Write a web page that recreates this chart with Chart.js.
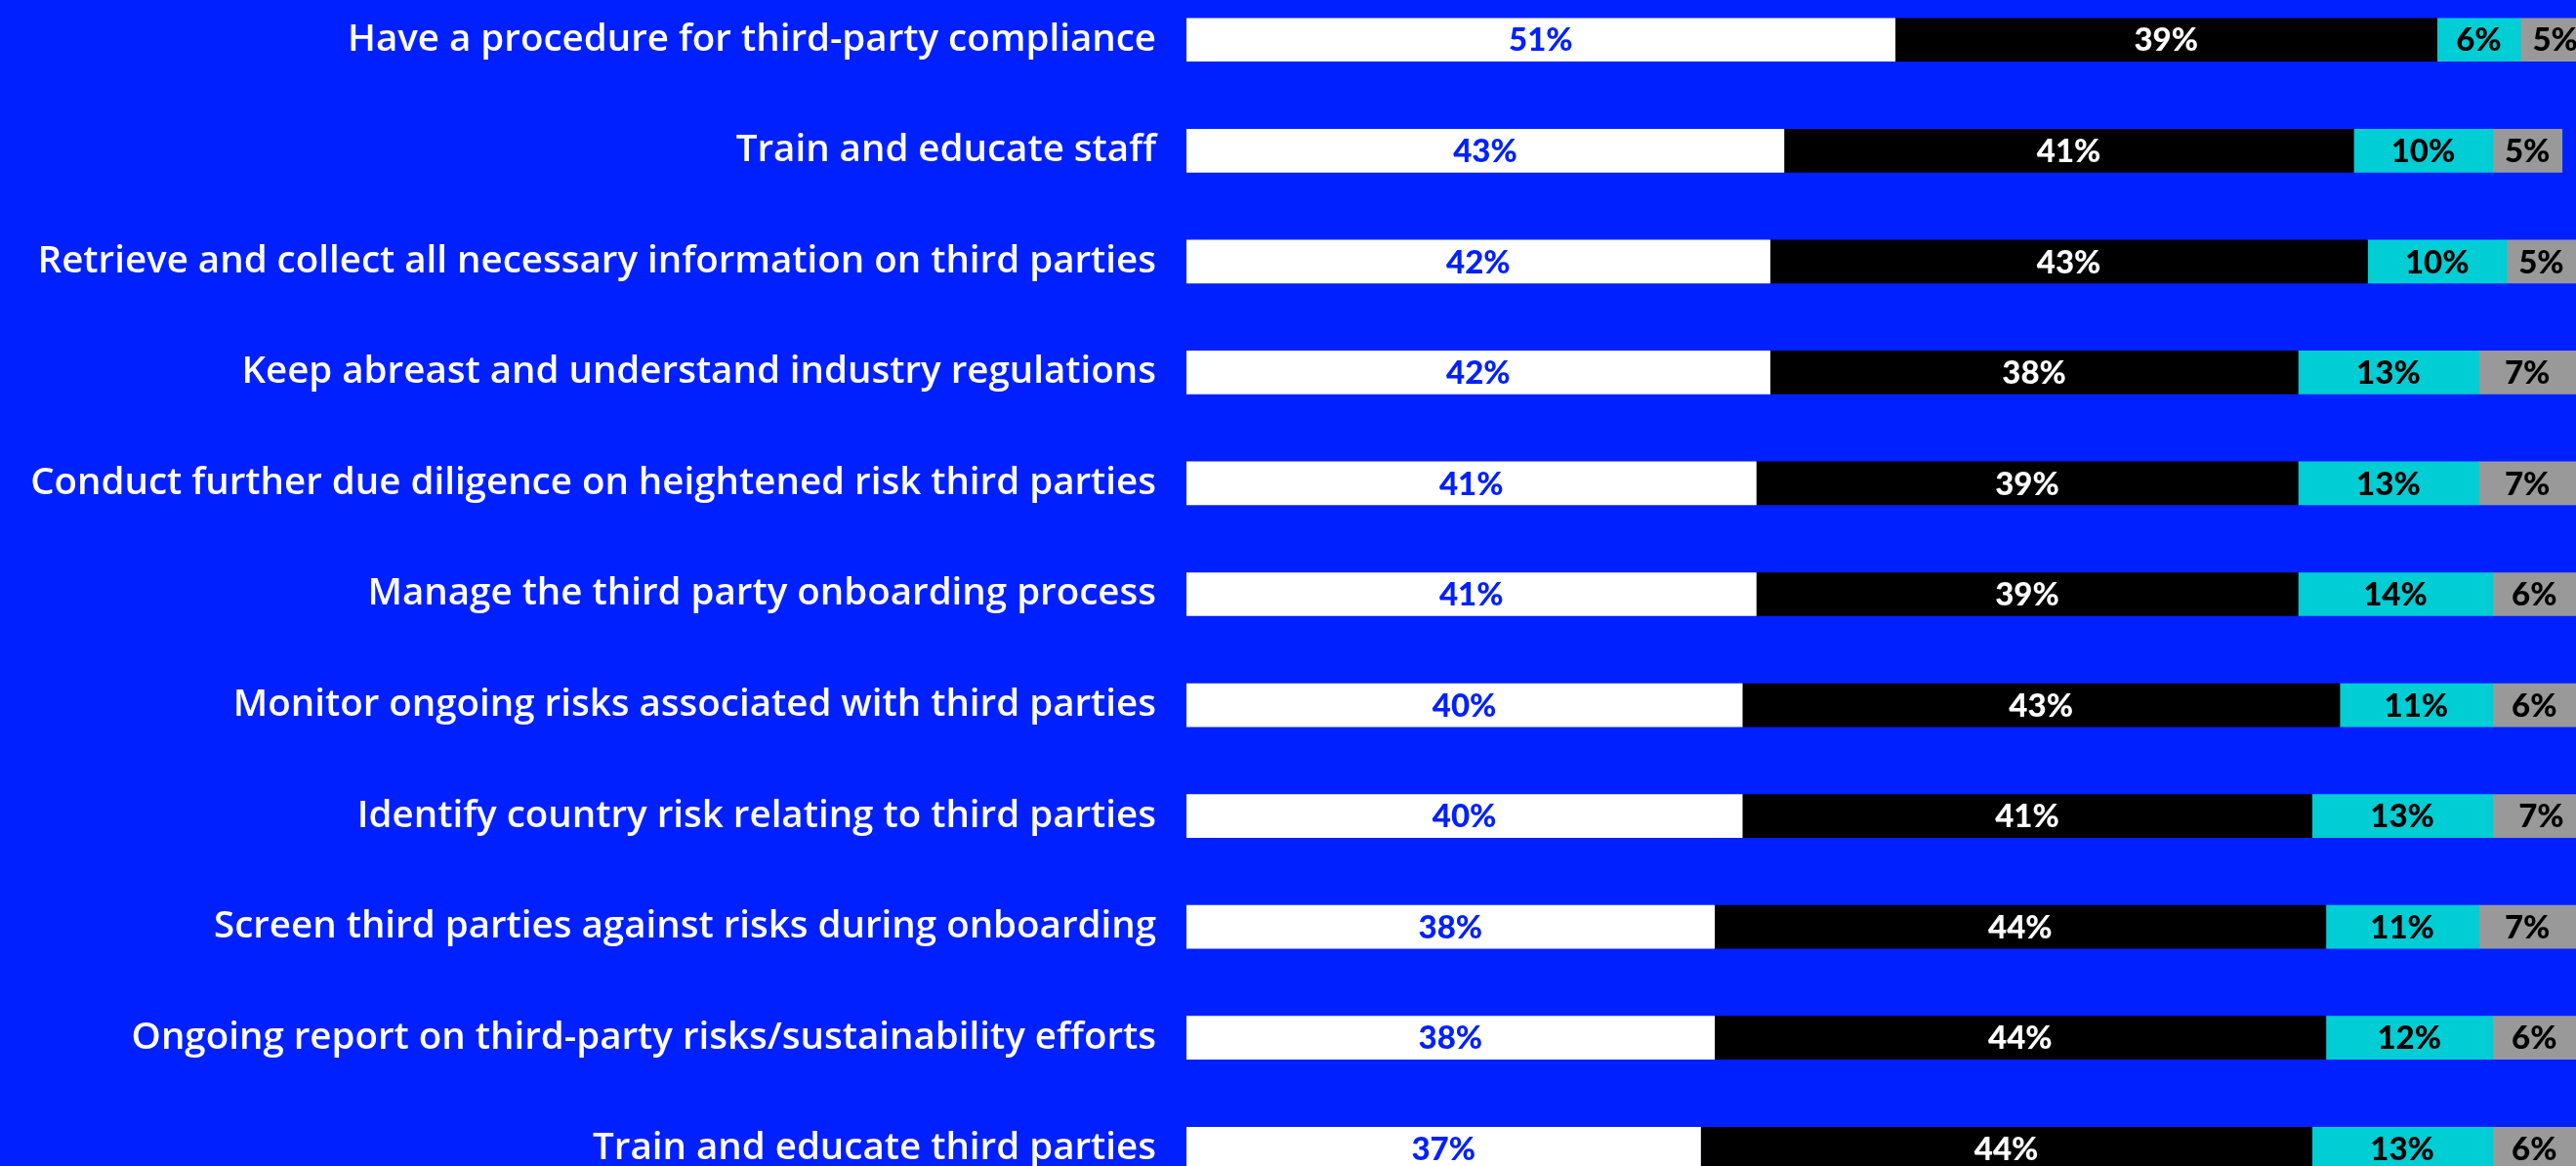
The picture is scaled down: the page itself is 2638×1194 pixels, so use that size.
<!DOCTYPE html>
<html>
<head>
<meta charset="utf-8">
<script src="https://cdn.jsdelivr.net/npm/chart.js@4"></script>
<style>
  html, body { margin: 0; padding: 0; background: #0020ff; overflow: hidden; }
  #wrap { position: absolute; left: 0; top: -16px; width: 2638px; height: 1249px; }
</style>
</head>
<body>
<div id="wrap"><canvas id="chart"></canvas></div>
<script>
const categories = [
  "Have a procedure for third-party compliance",
  "Train and educate staff",
  "Retrieve and collect all necessary information on third parties",
  "Keep abreast and understand industry regulations",
  "Conduct further due diligence on heightened risk third parties",
  "Manage the third party onboarding process",
  "Monitor ongoing risks associated with third parties",
  "Identify country risk relating to third parties",
  "Screen third parties against risks during onboarding",
  "Ongoing report on third-party risks/sustainability efforts",
  "Train and educate third parties"
];
const seriesWhite = [51, 43, 42, 42, 41, 41, 40, 40, 38, 38, 37];
const seriesBlack = [39, 41, 43, 38, 39, 39, 43, 41, 44, 44, 44];
const seriesCyan  = [6, 10, 10, 13, 13, 14, 11, 13, 11, 12, 13];
const seriesGray  = [5, 5, 5, 7, 7, 6, 6, 7, 7, 6, 6];

const fills = ["#ffffff", "#000000", "#00cdd4", "#999999"];
const labelColors = ["#0020ff", "#ffffff", "#000000", "#000000"];

// draws the "NN%" text in the middle of each segment
const segmentLabels = {
  id: "segmentLabels",
  afterDatasetsDraw(chart) {
    const ctx = chart.ctx;
    ctx.save();
    ctx.font = "900 33px Lato";
    ctx.textAlign = "center";
    ctx.textBaseline = "middle";
    chart.data.datasets.forEach((ds, di) => {
      const meta = chart.getDatasetMeta(di);
      ctx.fillStyle = labelColors[di];
      meta.data.forEach((bar, i) => {
        const cx = (bar.x + bar.base) / 2;
        ctx.fillText(ds.data[i] + "%", cx, bar.y + 1);
      });
    });
    ctx.restore();
  }
};

const ds = (data, i) => ({
  data: data,
  backgroundColor: fills[i],
  borderWidth: 0,
  barThickness: 44
});

new Chart(document.getElementById("chart"), {
  type: "bar",
  data: {
    labels: categories,
    datasets: [ds(seriesWhite, 0), ds(seriesBlack, 1), ds(seriesCyan, 2), ds(seriesGray, 3)]
  },
  options: {
    indexAxis: "y",
    responsive: true,
    maintainAspectRatio: false,
    animation: false,
    layout: { padding: 0 },
    scales: {
      x: { stacked: true, min: 0, max: 100, display: false },
      y: {
        stacked: true,
        grid: { display: false, drawTicks: false },
        border: { display: false },
        ticks: {
          color: "#ffffff",
          font: { family: "Open Sans", size: 38.5, weight: "600" },
          padding: 31
        },
        afterFit(scale) {
          scale.width = 1215;
          scale.paddingTop = 0;
          scale.paddingBottom = 0;
        }
      }
    },
    plugins: {
      legend: { display: false },
      tooltip: { enabled: false }
    }
  },
  plugins: [segmentLabels]
});
</script>
</body>
</html>
